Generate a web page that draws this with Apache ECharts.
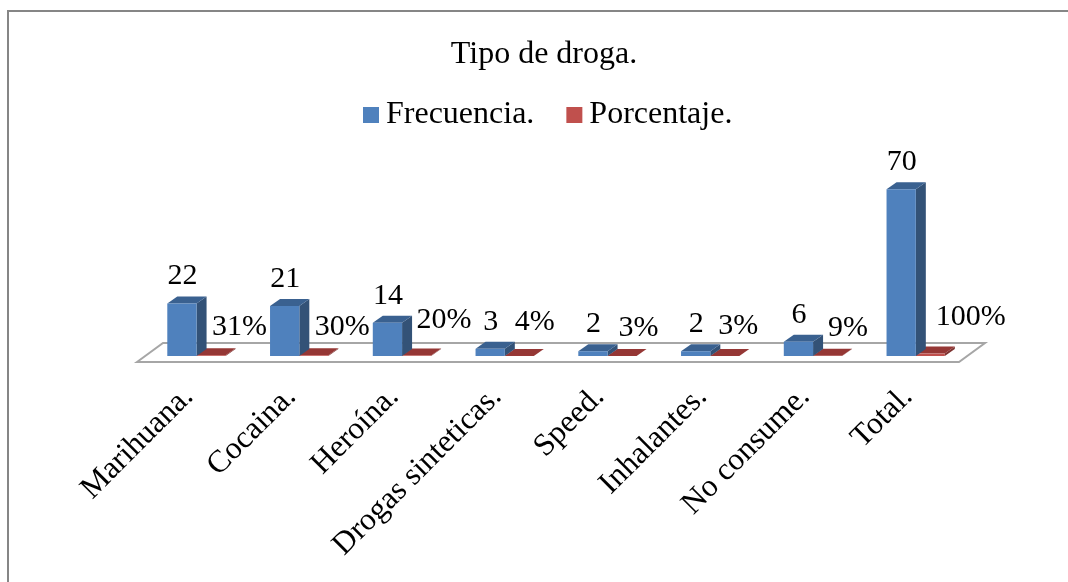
<!DOCTYPE html>
<html>
<head>
<meta charset="utf-8">
<style>
html,body{margin:0;padding:0;background:#fff;}
#main{width:1068px;height:582px;}
</style>
<script src="https://cdn.jsdelivr.net/npm/echarts@6/dist/echarts.min.js"></script>
</head>
<body>
<div id="main"></div>
<script>
var categories = ['Marihuana.', 'Cocaina.', 'Heroína.', 'Drogas sinteticas.', 'Speed.', 'Inhalantes.', 'No consume.', 'Total.'];
var frecuencia = [22, 21, 14, 3, 2, 2, 6, 70];
var porcentaje = [0.31, 0.30, 0.20, 0.04, 0.03, 0.03, 0.09, 1];
var porcentajeLabels = ['31%', '30%', '20%', '4%', '3%', '3%', '9%', '100%'];

// las etiquetas de porcentaje estan movidas a mano en el original
var pctNudge = [[51, 1], [51, 1], [50, -6], [38, -5], [39, 1], [36, -1], [43, 1], [63, -7]];

var FONT = '"Liberation Serif", "Times New Roman", serif';
var DX = 10, DY = 7;	// profundidad 3d

function shade(color, pts) {
	return {type: 'polygon', shape: {points: pts}, style: {fill: color}};
}

// barra 3d: frente, lado, tapa
function bar3d(params, api, front, side, top, offset) {
	var x = api.value(0);
	var base = api.coord([x, 0]);
	var tip = api.coord([x, api.value(1)]);
	var w = api.size([1, 0])[0] * 0.285;
	var x0 = base[0] + offset * w;
	var x1 = x0 + w;
	var y0 = base[1];
	var y1 = tip[1];
	return {
		type: 'group',
		children: [
			shade(side, [[x1, y0], [x1 + DX, y0 - DY], [x1 + DX, y1 - DY], [x1, y1]]),
			shade(top, [[x0, y1], [x0 + DX, y1 - DY], [x1 + DX, y1 - DY], [x1, y1]]),
			shade(front, [[x0, y0], [x1, y0], [x1, y1], [x0, y1]])
		]
	};
}

// piso del grafico
function floor(params, api) {
	if (params.dataIndex != 0) return;
	var rect = params.coordSys;
	var y = api.coord([0, 0])[1] + 6;
	var left = rect.x, right = rect.x + rect.width;
	return {
		type: 'polygon',
		z2: -10,
		shape: {points: [[left, y], [left + 26, y - 19], [right + 26, y - 19], [right, y]]},
		style: {fill: '#fff', stroke: '#a6a6a6', lineWidth: 2}
	};
}

var chart = echarts.init(document.getElementById('main'), null, {renderer: 'canvas'});
chart.setOption({
	animation: false,
	backgroundColor: '#fff',
	graphic: [{
		type: 'rect',
		z: -20,
		shape: {x: 8, y: 11, width: 1200, height: 700},
		style: {fill: 'none', stroke: '#868686', lineWidth: 2}
	}],
	title: {
		text: 'Tipo de droga.',
		left: 539,
		top: 34,
		textAlign: 'center',
		textStyle: {fontFamily: FONT, fontSize: 32, fontWeight: 'normal', color: '#000'}
	},
	legend: {
		left: 358,
		top: 94,
		itemWidth: 16,
		itemHeight: 16,
		itemGap: 32,
		icon: 'rect',
		textStyle: {fontFamily: FONT, fontSize: 32, color: '#000', padding: [0, 0, 0, 2]},
		data: ['Frecuencia.', 'Porcentaje.']
	},
	grid: {left: 137, top: 101, width: 822, height: 255},
	xAxis: {
		type: 'category',
		data: categories,
		axisLine: {show: false},
		axisTick: {show: false},
		axisLabel: {
			interval: 0,
			rotate: 45,
			margin: 36,
			fontFamily: FONT,
			fontSize: 31.5,
			color: '#000'
		}
	},
	yAxis: {type: 'value', min: 0, max: 107, show: false, splitLine: {show: false}},
	series: [
		{
			type: 'custom',
			silent: true,
			z: 1,
			data: [[0, 0]],
			renderItem: floor,
			name: 'piso'
		},
		{
			name: 'Frecuencia.',
			type: 'custom',
			z: 3,
			itemStyle: {color: '#4f81bd'},
			data: frecuencia.map(function(v, i) { return [i, v]; }),
			encode: {x: 0, y: 1},
			renderItem: function(params, api) {
				return bar3d(params, api, '#4f81bd', '#335277', '#3a6190', -0.72);
			}
		},
		{
			name: 'Porcentaje.',
			type: 'custom',
			z: 2,
			itemStyle: {color: '#c0504d'},
			data: porcentaje.map(function(v, i) { return [i, v]; }),
			encode: {x: 0, y: 1},
			renderItem: function(params, api) {
				return bar3d(params, api, '#c0504d', '#7d3331', '#953735', 0.27);
			}
		},
		// etiquetas de datos
		{
			type: 'scatter',
			symbolSize: 0,
			silent: true,
			z: 5,
			itemStyle: {opacity: 1},
			data: frecuencia.map(function(v, i) { return [i, v]; }),
			label: {
				show: true,
				position: 'top',
				distance: 12,
				offset: [-6, 0],
				fontFamily: FONT,
				fontSize: 30,
				color: '#000',
				formatter: function(p) { return String(p.value[1]); }
			}
		},
		{
			type: 'scatter',
			symbolSize: 0,
			silent: true,
			z: 5,
			itemStyle: {opacity: 1},
			data: porcentaje.map(function(v, i) {
				return {value: [i, v], label: {offset: pctNudge[i]}};
			}),
			label: {
				show: true,
				position: 'top',
				distance: 14,
				fontFamily: FONT,
				fontSize: 30,
				color: '#000',
				formatter: function(p) { return porcentajeLabels[p.dataIndex]; }
			}
		}
	]
});
</script>
</body>
</html>
